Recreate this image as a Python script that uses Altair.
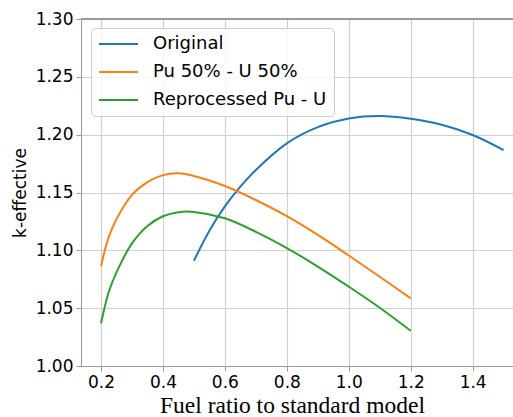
import altair as alt
import pandas as pd

# ---- data ----
series_names = ["Original", "Pu 50% - U 50%", "Reprocessed Pu - U"]
series_colors = ["#1f77b4", "#ff7f0e", "#2ca02c"]

orig_x = [0.5, 0.55, 0.6, 0.65, 0.7, 0.8, 0.9, 1.0, 1.1, 1.2, 1.3, 1.4, 1.5]
orig_y = [1.091, 1.117, 1.138, 1.155, 1.1695, 1.1925, 1.2065, 1.2140, 1.2161, 1.2137, 1.2085, 1.1997, 1.1867]

pu_x = [0.2, 0.225, 0.25, 0.3, 0.35, 0.4, 0.45, 0.5, 0.6, 0.7, 0.8, 0.9, 1.0, 1.1, 1.2]
pu_y = [1.0865, 1.1115, 1.127, 1.148, 1.159, 1.165, 1.1666, 1.1643, 1.1556, 1.1435, 1.1295, 1.1133, 1.0955, 1.0772, 1.0585]

rep_x = [0.2, 0.225, 0.25, 0.3, 0.35, 0.4, 0.45, 0.5, 0.6, 0.7, 0.8, 0.9, 1.0, 1.1, 1.2]
rep_y = [1.037, 1.064, 1.081, 1.106, 1.121, 1.1295, 1.1330, 1.1332, 1.1277, 1.1160, 1.102, 1.0860, 1.0686, 1.0504, 1.0305]

x_ticks = [0.2, 0.4, 0.6, 0.8, 1.0, 1.2, 1.4]
y_ticks = [1.00, 1.05, 1.10, 1.15, 1.20, 1.25, 1.30]

x_title = "Fuel ratio to standard model"
y_title = "k-effective"

frames = []
for name, xs, ys in zip(series_names, [orig_x, pu_x, rep_x], [orig_y, pu_y, rep_y]):
    frames.append(pd.DataFrame({"x": xs, "y": ys, "series": name}))
df = pd.concat(frames, ignore_index=True)

W, H = 432, 347
x_dom = [0.1354, 0.1354 + W / 309.7]
y_dom = [1.0, 1.3]

lines = alt.Chart(df).mark_line(strokeWidth=2, interpolate="catmull-rom").encode(
    x=alt.X("x:Q", scale=alt.Scale(domain=x_dom, nice=False, zero=False),
            axis=alt.Axis(values=x_ticks, format=".1f", title=x_title,
                          titleFont="Liberation Serif", titleFontSize=23.5,
                          titleFontWeight="normal", titleColor="#000",
                          titleX=211, titleY=46, titleAlign="center",
                          titleBaseline="alphabetic",
                          labelPadding=3)),
    y=alt.Y("y:Q", scale=alt.Scale(domain=y_dom, nice=False, zero=False),
            axis=alt.Axis(values=y_ticks, format=".2f", title=y_title,
                          titleFont="DejaVu Sans", titleFontSize=17,
                          titleFontWeight="normal", titleColor="#000",
                          titleX=-61, titleY=H / 2, titleAngle=270,
                          titleAlign="center", titleBaseline="middle",
                          labelPadding=3)),
    color=alt.Color("series:N",
                    scale=alt.Scale(domain=series_names, range=series_colors),
                    sort=series_names,
                    legend=alt.Legend(title=None, orient="none", legendX=10, legendY=9,
                                      symbolType="stroke", symbolSize=1521,
                                      symbolStrokeWidth=2, labelFontSize=18,
                                      labelFont="DejaVu Sans", labelColor="#000",
                                      labelLimit=400,
                                      labelOffset=14, padding=7, rowPadding=10,
                                      clipHeight=18,
                                      fillColor="rgba(255,255,255,0.8)",
                                      strokeColor="#cccccc", cornerRadius=4)),
)

top_spine = alt.Chart(df).mark_rule(color="#999999", strokeWidth=1).encode(
    x=alt.value(0), x2=alt.value(W), y=alt.value(0)
)

chart = alt.layer(lines, top_spine).properties(
    width=W, height=H,
    autosize=alt.AutoSizeParams(type="none"),
    padding={"left": 81, "top": 19, "right": 0, "bottom": 51},
).configure_view(stroke=None).configure_axis(
    labelFont="DejaVu Sans", labelFontSize=17, labelColor="#000",
    domainColor="#999999", domainWidth=1, tickColor="#999999", tickSize=5,
    gridColor="#d0d0d0", gridWidth=1.2,
)

chart.save("out.html", embed_options={"renderer": "svg", "actions": False})
